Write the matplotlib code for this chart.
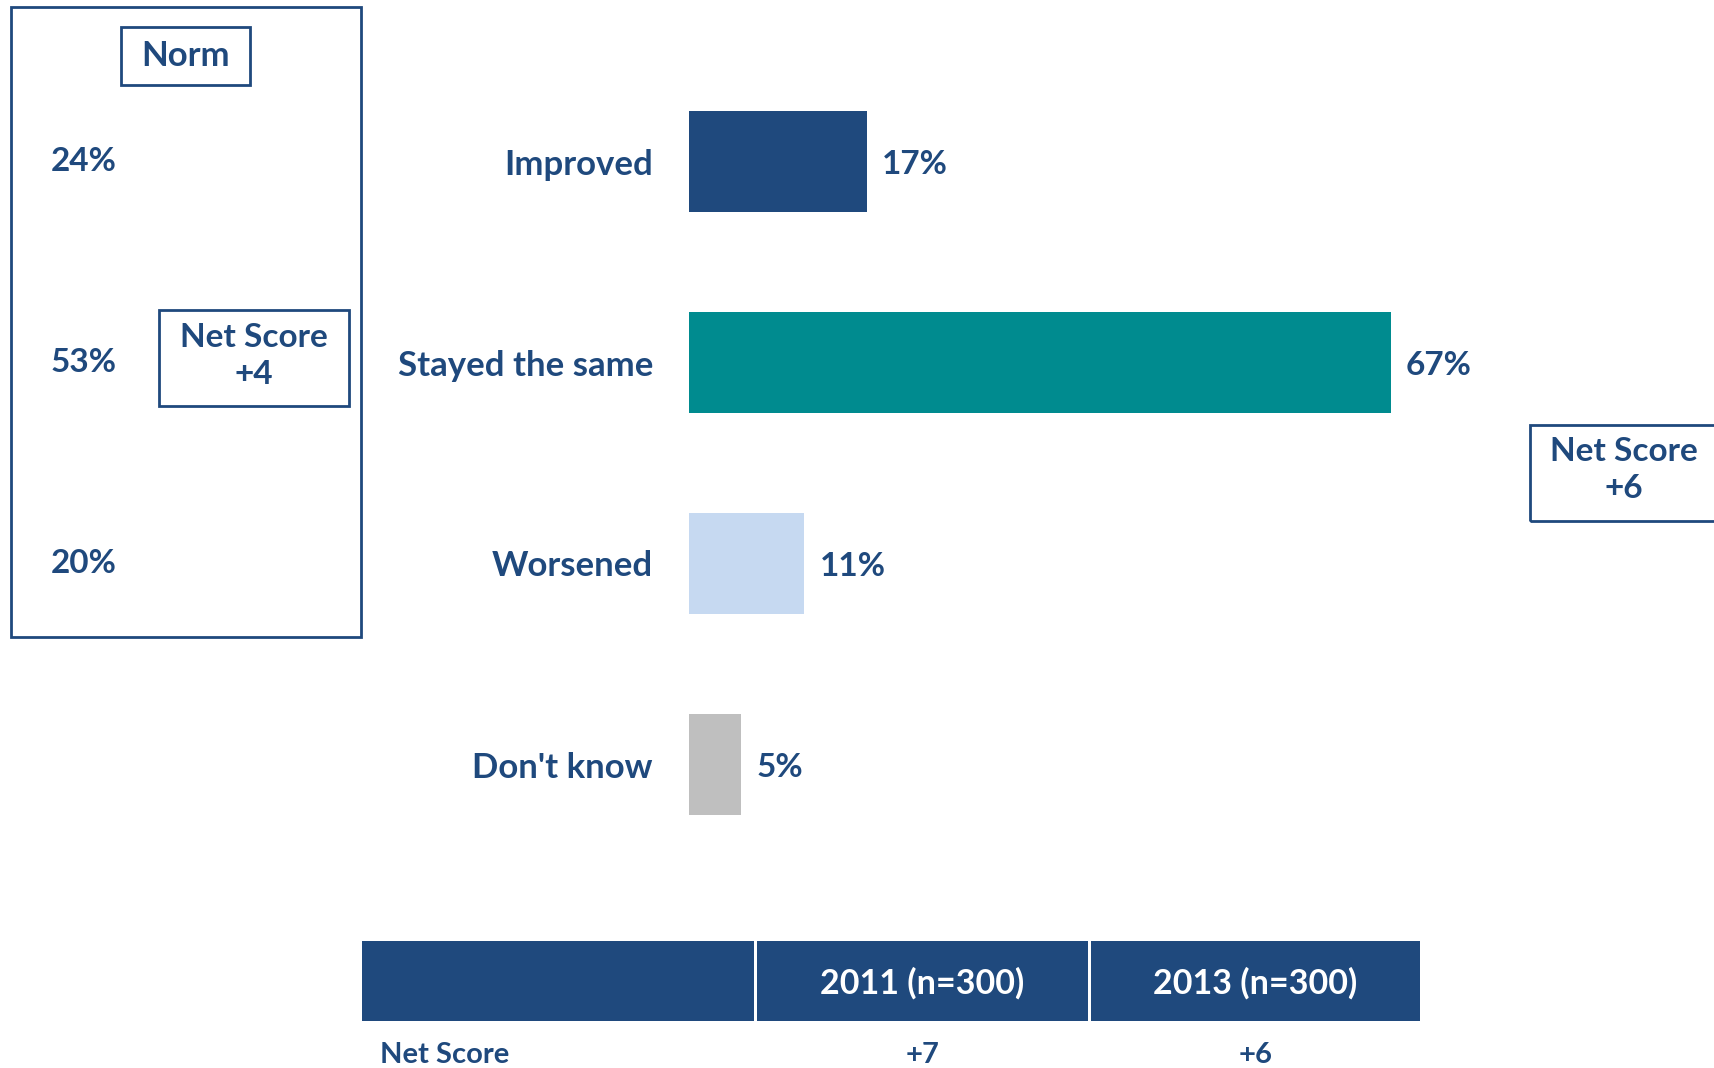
import matplotlib.pyplot as plt
from matplotlib.patches import Rectangle
import matplotlib.transforms as mtransforms

plt.rcParams['font.family'] = ['Lato', 'DejaVu Sans']

# data
categories = ["Improved", "Stayed the same", "Worsened", "Don't know"]
values = [17, 67, 11, 5]
bar_colours = ["#1F497D", "#008B8F", "#C6D9F1", "#BFBFBF"]
norm_values = [24, 53, 20]
norm_net = "+4"
current_net = "+6"
table_years = ["2011 (n=300)", "2013 (n=300)"]
table_net = ["+7", "+6"]

navy = "#1F497D"
W, H = 1715, 1068

fig = plt.figure(figsize=(W / 100, H / 100), dpi=100)


def fx(px):
    return px / W


def fy(py):
    return 1 - py / H


def box(x0, y0, x1, y1, fc="none", ec=navy, lw=2):
    fig.patches.append(Rectangle((fx(x0), fy(y1)), fx(x1) - fx(x0), fy(y0) - fy(y1),
                                 transform=fig.transFigure, facecolor=fc,
                                 edgecolor=ec, linewidth=lw, clip_on=False))


# bar axes: 0% at x=689px, 10.47 px per percent
ax = fig.add_axes([fx(689), fy(865), 733 / W, 804 / H])
ax.barh(range(len(values)), values, height=0.5, color=bar_colours)
ax.set_xlim(0, 70)
ax.set_ylim(len(values) - 0.5, -0.5)
ax.set_yticks(range(len(categories)))
ax.set_yticklabels(categories, fontsize=25, fontweight="bold", color=navy)
ax.tick_params(axis="y", length=0, pad=26)
ax.set_xticks([])
for s in ax.spines.values():
    s.set_visible(False)
for i, v in enumerate(values):
    ax.annotate(f"{v}%", (v, i), xytext=(11, -2), textcoords="offset points",
                ha="left", va="center", fontsize=24, fontweight="bold", color=navy)

# norm panel
box(11, 7, 361, 637)
box(121, 27, 250, 85)
fig.text(fx(186), fy(56), "Norm", ha="center", va="center", fontsize=25,
         fontweight="bold", color=navy)
blend = mtransforms.blended_transform_factory(fig.transFigure, ax.transData)
for i, v in enumerate(norm_values):
    ax.text(fx(51), i, f"{v}%", transform=blend, ha="left", va="center",
            fontsize=24, fontweight="bold", color=navy, clip_on=False)
box(159, 310, 349, 406)
fig.text(fx(254), fy(356), f"Net Score\n{norm_net}", ha="center", va="center",
         fontsize=24, fontweight="bold", color=navy, linespacing=1.35)

# current net score
box(1530, 425, 1725, 521)
fig.text(fx(1624), fy(470), f"Net Score\n{current_net}", ha="center", va="center",
         fontsize=24, fontweight="bold", color=navy, linespacing=1.35)

# table
cols = [(362, 754), (757, 1088), (1091, 1420)]
for c0, c1 in cols:
    box(c0, 941, c1, 1021, fc=navy, ec="none", lw=0)
for (c0, c1), yr, ns in zip(cols[1:], table_years, table_net):
    fig.text(fx((c0 + c1) / 2), fy(983), yr, ha="center", va="center",
             fontsize=24.5, fontweight="bold", color="white")
    fig.text(fx((c0 + c1) / 2), fy(1055), ns, ha="center", va="center",
             fontsize=21, fontweight="bold", color=navy)
fig.text(fx(380), fy(1055), "Net Score", ha="left", va="center",
         fontsize=21, fontweight="bold", color=navy)

fig.savefig("out.png", dpi=100, facecolor="white")
